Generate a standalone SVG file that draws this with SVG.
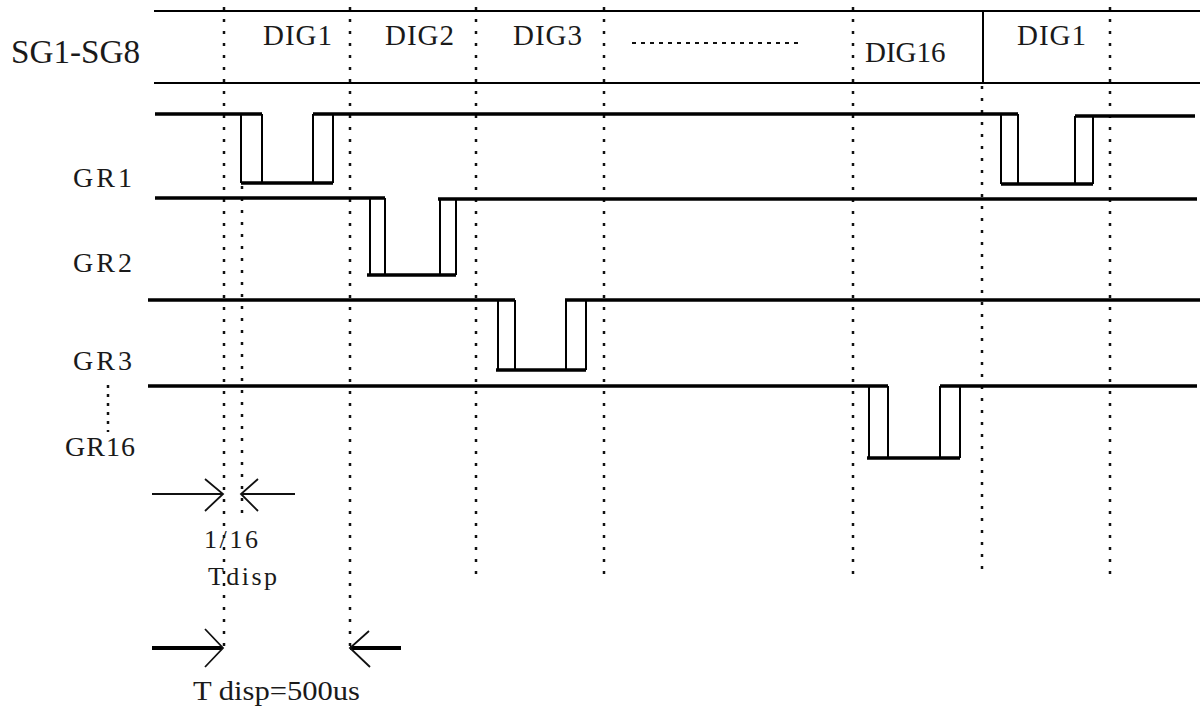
<svg xmlns="http://www.w3.org/2000/svg" width="1203" height="713" viewBox="0 0 1203 713">
<style>
.txt{font-family:"Liberation Serif","Times New Roman",serif;fill:#1a1a1a}
.dot{stroke:#111;stroke-width:2.5;stroke-dasharray:3 9;fill:none}
.hz{stroke:#000;stroke-width:3.5;fill:none}
.vt{stroke:#000;stroke-width:2;fill:none}
.thin{stroke:#000;stroke-width:1.8;fill:none}
.arr{stroke:#111;stroke-width:1.8;fill:none}
.arrb{stroke:#000;stroke-width:4;fill:none}
</style>
<rect width="1203" height="713" fill="#ffffff"/>
<g id="bus-lines">
<line class="thin" x1="154" y1="11" x2="1200" y2="11"/>
<line class="thin" x1="154" y1="83" x2="1200" y2="83"/>
<line class="vt" x1="983" y1="11" x2="983" y2="83"/>
</g>
<g id="grid">
<line class="dot" x1="224" y1="7" x2="224" y2="650"/>
<line class="dot" x1="242" y1="186" x2="242" y2="515"/>
<line class="dot" x1="350" y1="7" x2="350" y2="650"/>
<line class="dot" x1="476" y1="7" x2="476" y2="575"/>
<line class="dot" x1="604" y1="7" x2="604" y2="575"/>
<line class="dot" x1="853" y1="7" x2="853" y2="575"/>
<line class="dot" x1="982" y1="86" x2="982" y2="575"/>
<line class="dot" x1="1110" y1="7" x2="1110" y2="575"/>
<line class="dot" x1="108" y1="385" x2="108" y2="432" style="stroke-dasharray:3 6"/>
<line class="dot" x1="632" y1="43" x2="802" y2="43" style="stroke-dasharray:4 5;stroke-width:2"/>
</g>
<g id="labels">
<text class="txt" x="11" y="63" font-size="34" textLength="129" lengthAdjust="spacingAndGlyphs">SG1-SG8</text>
<text class="txt" x="263" y="45" font-size="29" letter-spacing="1">DIG1</text>
<text class="txt" x="385" y="45" font-size="29" letter-spacing="1">DIG2</text>
<text class="txt" x="513" y="45" font-size="29" letter-spacing="1">DIG3</text>
<text class="txt" x="865" y="62" font-size="29">DIG16</text>
<text class="txt" x="1017" y="45" font-size="29" letter-spacing="1">DIG1</text>
<text class="txt" x="73" y="187" font-size="28" letter-spacing="3">GR1</text>
<text class="txt" x="73" y="272" font-size="28" letter-spacing="3">GR2</text>
<text class="txt" x="73" y="370" font-size="28" letter-spacing="3">GR3</text>
<text class="txt" x="65" y="456" font-size="28" letter-spacing="1">GR16</text>
</g>
<g id="GR1">
<path class="hz" d="M155,114 H262 M241,183 H333 M313,114 H1018 M1001,184 H1093 M1075,116 H1195"/>
<path class="vt" d="M241,114 V183 M262,114 V183 M313,114 V183 M333,114 V183 M1001,114 V184 M1018,114 V184 M1075,116 V184 M1093,116 V184"/>
</g>
<g id="GR2">
<path class="hz" d="M155,198 H385 M367,275 H456 M438,199 H1197"/>
<path class="vt" d="M370,198 V275 M385,198 V275 M440,199 V275 M456,199 V275"/>
</g>
<g id="GR3">
<path class="hz" d="M148,300 H515 M496,370 H586 M565,300 H1200"/>
<path class="vt" d="M498,300 V370 M515,300 V370 M566,300 V370 M586,300 V370"/>
</g>
<g id="GR16">
<path class="hz" d="M148,386 H888 M867,458 H960 M940,386 H1197"/>
<path class="vt" d="M869,386 V458 M888,386 V458 M940,386 V458 M960,386 V458"/>
</g>
<g id="connectors">
<path class="arr" d="M152,494 H222 M205,479 L223,494 L205,511"/>
<path class="arr" d="M295,494 H241 M258,479 L241,494 L258,511"/>
<path class="arrb" d="M152,648 H222"/>
<path class="arr" d="M205,629 L223,648 L205,667"/>
<path class="arrb" d="M401,648 H350"/>
<path class="arr" d="M369,631 L350,648 L370,667"/>
</g>
<g id="dim-labels">
<text class="txt" x="204" y="548" font-size="26" textLength="54" lengthAdjust="spacing">1/16</text>
<text class="txt" x="208" y="585" font-size="26" textLength="69" lengthAdjust="spacing">Tdisp</text>
<text class="txt" x="193" y="700" font-size="28" textLength="167" lengthAdjust="spacingAndGlyphs">T disp=500us</text>
</g>
</svg>
